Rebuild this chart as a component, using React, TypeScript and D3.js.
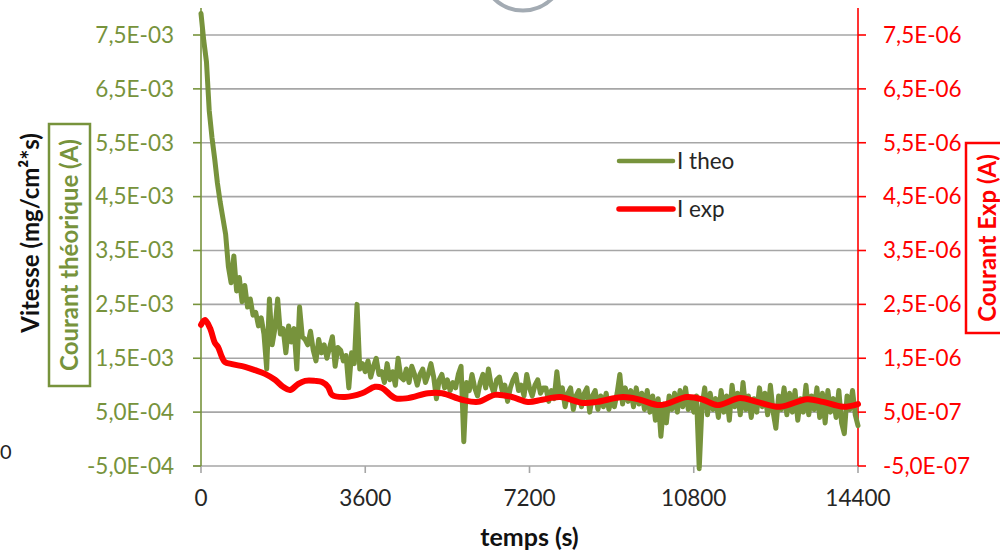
import React from 'react';
import * as d3 from 'd3';

const W = 1000;
const H = 550;

// ---- axis ticks ----
const timeTicks = [0, 3600, 7200, 10800, 14400];
const timeTickLabels = ['0', '3600', '7200', '10800', '14400'];
const leftTicks = [-5e-4, 5e-4, 1.5e-3, 2.5e-3, 3.5e-3, 4.5e-3, 5.5e-3, 6.5e-3, 7.5e-3];
const leftTickLabels = ['-5,0E-04', '5,0E-04', '1,5E-03', '2,5E-03', '3,5E-03', '4,5E-03', '5,5E-03', '6,5E-03', '7,5E-03'];
const rightTicks = [-5e-7, 5e-7, 1.5e-6, 2.5e-6, 3.5e-6, 4.5e-6, 5.5e-6, 6.5e-6, 7.5e-6];
const rightTickLabels = ['-5,0E-07', '5,0E-07', '1,5E-06', '2,5E-06', '3,5E-06', '4,5E-06', '5,5E-06', '6,5E-06', '7,5E-06'];
const leftDomain = [-5e-4, 8e-3];
const rightDomain = [-5e-7, 8e-6];
const timeDomain = [0, 14400];

// ---- series ----
// I theo : sampled every 60 s, values in 1E-03 A
const theoStep = 60;
const theoValues = [
  7.9, 7.4, 7.0, 6.1, 5.6, 5.2, 4.75, 4.4, 4.1, 3.8,
  3.2, 2.9, 3.4, 2.75, 3.0, 2.55, 2.85, 2.45, 2.6, 2.3,
  2.35, 2.1, 2.25, 1.95, 1.3, 2.6, 1.75, 2.05, 2.6, 1.95,
  2.05, 1.6, 2.1, 1.8, 2.05, 1.3, 2.45, 1.9, 1.85, 1.75,
  2.0, 1.65, 1.45, 1.85, 1.6, 1.75, 1.5, 1.7, 1.9, 1.35,
  1.7, 1.65, 1.45, 1.55, 0.95, 1.6, 1.4, 2.5, 1.3, 1.4,
  1.25, 1.45, 1.15, 1.35, 1.5, 1.2, 1.25, 1.05, 1.4, 1.1,
  1.25, 1.0, 1.5, 1.15, 1.1, 1.3, 1.05, 1.35, 1.2, 1.0,
  1.2, 1.3, 1.05, 1.2, 1.4, 1.15, 0.75, 1.1, 1.2, 0.95,
  1.1, 0.9, 1.05, 0.95, 1.2, 1.35, -0.05, 1.05, 0.9, 1.2,
  0.95, 0.8, 1.05, 1.2, 0.95, 1.3, 1.0, 0.85, 1.1, 1.15,
  0.9, 1.0, 0.7, 0.95, 1.1, 1.2, 0.9, 1.0, 0.8, 1.2,
  0.95, 0.8, 1.0, 1.1, 0.85, 0.95, 0.95, 0.7, 0.9, 0.75,
  1.25, 0.8, 0.95, 0.6, 0.85, 0.95, 0.55, 0.8, 0.9, 0.6,
  0.85, 0.95, 0.5, 0.8, 0.9, 0.55, 0.8, 0.6, 0.85, 0.55,
  0.75, 0.6, 0.85, 1.2, 0.65, 0.95, 0.7, 0.9, 0.6, 0.95,
  0.65, 0.85, 0.55, 0.9, 0.5, 0.8, 0.35, 0.75, 0.05, 0.65,
  0.3, 0.8, 0.55, 0.85, 0.5, 0.9, 0.6, 0.95, 0.55, 0.75,
  0.5, 0.8, -0.55, 0.6, 0.95, 0.45, 0.85, 0.55, 0.75, 0.4,
  0.9, 0.5, 0.8, 0.35, 1.0, 0.6, 0.85, 0.45, 1.05, 0.55,
  0.8, 0.4, 0.75, 0.5, 0.95, 0.6, 0.85, 0.45, 1.0, 0.5,
  0.2, 0.8, 0.55, 0.95, 0.45, 0.85, 0.5, 0.9, 0.35, 0.75,
  0.5, 1.0, 0.45, 0.8, 0.55, 0.95, 0.4, 0.85, 0.3, 0.9,
  0.5, 0.75, 0.4, 0.9, 0.3, 0.1, 0.8, 0.55, 0.9, 0.45,
  0.25,
];

// I exp : time (s) and values in 1E-06 A
const expTimes = [
  0, 88, 197, 307, 373, 460, 526, 680, 964, 1184,
  1403, 1622, 1797, 1951, 2126, 2280, 2499, 2652, 2784, 2872,
  3156, 3529, 3814, 3968, 4253, 4537, 4976, 5283, 5721, 6072,
  6444, 6817, 7168, 7475, 7869, 8373, 8680, 9250, 9623, 10061,
  10653, 11004, 11311, 11815, 12187, 12692, 13284, 13634, 14073, 14400,
];
const expValues = [
  2.12, 2.21, 2.06, 1.78, 1.71, 1.52, 1.43, 1.39, 1.34, 1.28,
  1.21, 1.1, 0.97, 0.91, 1.02, 1.08, 1.08, 1.06, 0.97, 0.82,
  0.78, 0.85, 0.97, 0.95, 0.76, 0.76, 0.85, 0.85, 0.73, 0.69,
  0.82, 0.78, 0.69, 0.73, 0.78, 0.67, 0.69, 0.78, 0.73, 0.63,
  0.78, 0.73, 0.63, 0.76, 0.69, 0.6, 0.74, 0.69, 0.6, 0.65,
];

const seriesNames = ['I theo', 'I exp'];
const GREEN = '#77933C';
const RED = '#FF0000';
const FONT = "Lato, 'Open Sans', sans-serif";

export default function App() {
  const x = d3.scaleLinear().domain(timeDomain).range([201, 858]);
  const yL = d3.scaleLinear().domain(leftDomain).range([466, 8.06]);
  const yR = d3.scaleLinear().domain(rightDomain).range([466, 8.06]);

  const theoData = theoValues.map((v, i) => [i * theoStep, v * 1e-3] as [number, number]);
  const expData = expTimes.map((t, i) => [t, expValues[i] * 1e-6] as [number, number]);

  const theoLine = d3.line<[number, number]>().x(d => x(d[0])).y(d => yL(d[1]));
  const expLine = d3
    .line<[number, number]>()
    .x(d => x(d[0]))
    .y(d => yR(d[1]))
    .curve(d3.curveCatmullRom.alpha(0.5));

  const x0 = x(timeDomain[0]);
  const x1 = x(timeDomain[1]);
  const yTop = yL(leftDomain[1]);
  const yBot = yL(leftDomain[0]);

  return (
    <svg
      width={W}
      height={H}
      viewBox={`0 0 ${W} ${H}`}
      style={{ position: 'absolute', left: 0, top: 0, background: '#fff' }}
      fontFamily={FONT}
    >
      <rect x={0} y={0} width={W} height={H} fill="#fff" />

      {/* decorative ring at top */}
      <circle cx={523} cy={-31} r={41.5} fill="none" stroke="#A3ABB3" strokeWidth={4} />

      {/* label of a cut-off axis at far left */}
      <text x={0} y={452} dy="0.35em" textAnchor="start" fontSize={20} fill="#222">0</text>

      {/* gridlines */}
      {leftTicks.slice(1).map(t => (
        <line key={t} x1={x0} x2={x1} y1={yL(t)} y2={yL(t)} stroke="#A6A6A6" strokeWidth={1.6} />
      ))}

      {/* x axis */}
      <line x1={x0 - 8} x2={x1} y1={yBot} y2={yBot} stroke="#A6A6A6" strokeWidth={1.6} />
      {timeTicks.map((t, i) => (
        <g key={t}>
          <line x1={x(t)} x2={x(t)} y1={yBot} y2={yBot + 7} stroke="#A6A6A6" strokeWidth={1.6} />
          <text x={x(t)} y={498} dy="0.35em" textAnchor="middle" fontSize={22.5} fill="#262626">
            {timeTickLabels[i]}
          </text>
        </g>
      ))}
      <text x={(x0 + x1) / 2} y={537} dy="0.35em" textAnchor="middle" fontSize={25} fontWeight="bold" fill="#111">
        temps (s)
      </text>

      {/* left axis */}
      <line x1={x0} x2={x0} y1={yTop} y2={yBot} stroke={GREEN} strokeWidth={1.6} />
      {leftTicks.map((t, i) => (
        <g key={t}>
          <line x1={x0 - 8} x2={x0} y1={yL(t)} y2={yL(t)} stroke={GREEN} strokeWidth={1.6} />
          <text x={174} y={yL(t)} dy="0.35em" textAnchor="end" fontSize={22.5} fill={GREEN}>
            {leftTickLabels[i]}
          </text>
        </g>
      ))}

      {/* right axis */}
      <line x1={x1} x2={x1} y1={yTop} y2={yBot} stroke={RED} strokeWidth={1.6} />
      {rightTicks.map((t, i) => (
        <g key={t}>
          <line x1={x1} x2={x1 + 8} y1={yR(t)} y2={yR(t)} stroke={RED} strokeWidth={1.6} />
          <text x={883} y={yR(t)} dy="0.35em" textAnchor="start" fontSize={22.5} fill={RED}>
            {rightTickLabels[i]}
          </text>
        </g>
      ))}

      {/* axis titles */}
      <text
        transform="translate(31,233) rotate(-90)"
        dy="0.35em"
        textAnchor="middle"
        fontSize={24}
        fontWeight="bold"
        fill="#111"
      >
        Vitesse (mg/cm²*s)
      </text>
      <rect x={49} y={124} width={41} height={262} fill="none" stroke={GREEN} strokeWidth={2.5} />
      <text
        transform="translate(70,255) rotate(-90)"
        dy="0.35em"
        textAnchor="middle"
        fontSize={24}
        fontWeight="bold"
        fill={GREEN}
      >
        Courant théorique (A)
      </text>
      <rect x={966} y={143} width={50} height={190} fill="#fff" stroke={RED} strokeWidth={2.5} />
      <text
        transform="translate(988,238) rotate(-90)"
        dy="0.35em"
        textAnchor="middle"
        fontSize={24}
        fontWeight="bold"
        fill={RED}
      >
        Courant Exp (A)
      </text>

      {/* series */}
      <path d={theoLine(theoData) || ''} fill="none" stroke={GREEN} strokeWidth={5} strokeLinejoin="round" strokeLinecap="round" />
      <path d={expLine(expData) || ''} fill="none" stroke={RED} strokeWidth={6} strokeLinejoin="round" strokeLinecap="round" />

      {/* legend */}
      {seriesNames.map((name, i) => (
        <g key={name} transform={`translate(619,${161 + i * 48})`}>
          <line x1={0} x2={54} y1={0} y2={0} stroke={i === 0 ? GREEN : RED} strokeWidth={i === 0 ? 4.5 : 5.5} strokeLinecap="round" />
          <text x={58} y={0} dy="0.35em" fontSize={22.5} fill="#262626">{name}</text>
        </g>
      ))}
    </svg>
  );
}
